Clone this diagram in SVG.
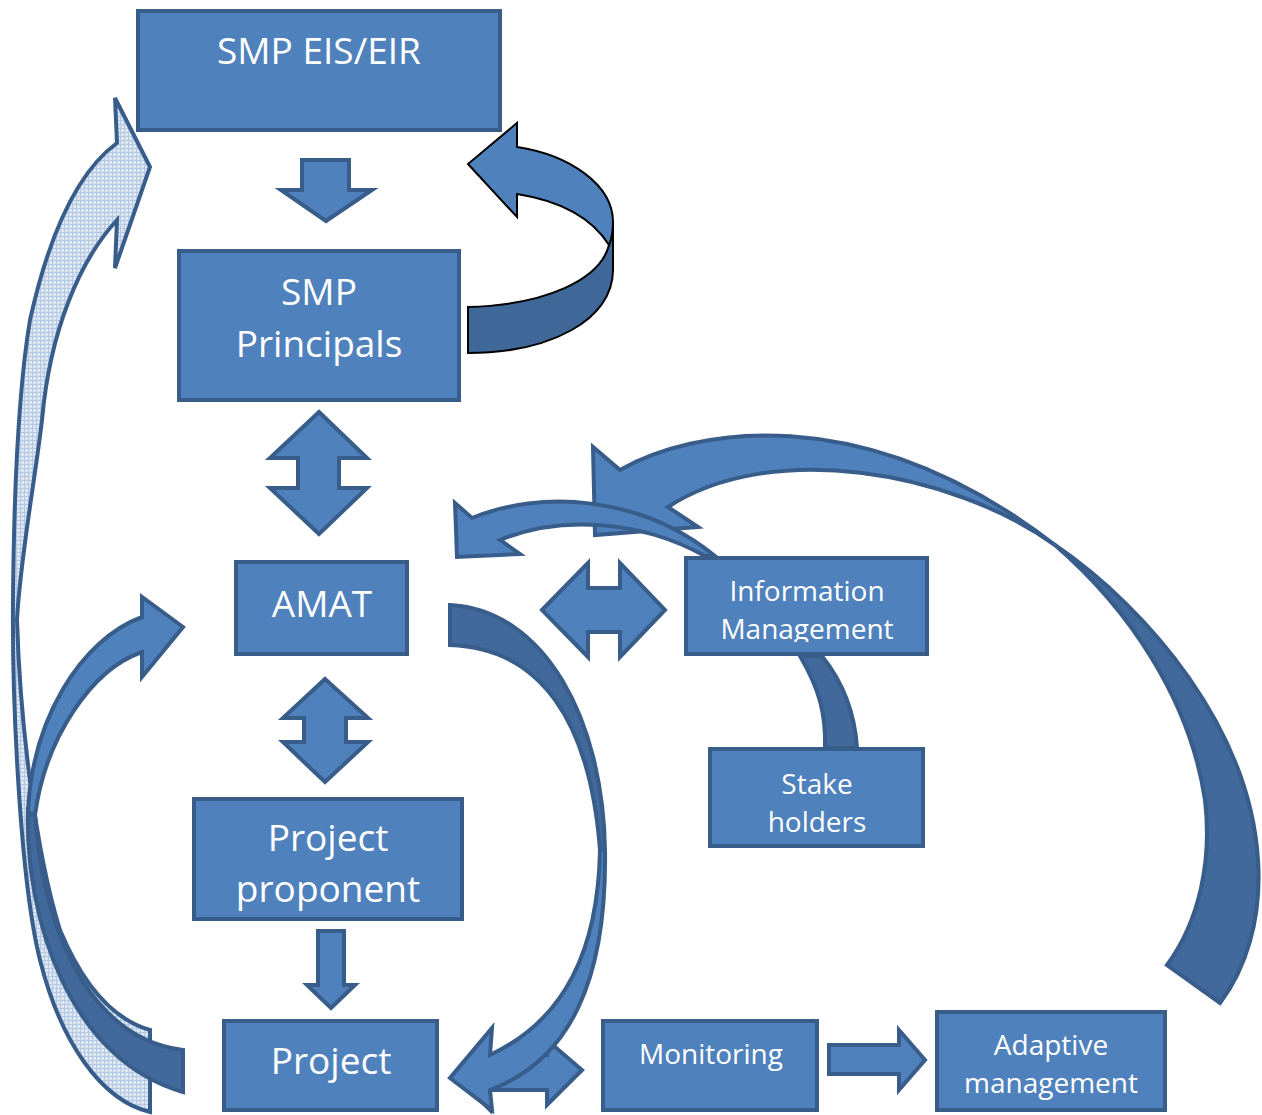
<svg xmlns="http://www.w3.org/2000/svg" width="1262" height="1115" viewBox="0 0 1262 1115">
<style>
.box{fill:#4F81BD;stroke:#385D8A;stroke-width:4}
.lbl{font-family:"Open Sans","Noto Sans",sans-serif;fill:#FFFFFF;text-anchor:middle}
.big{font-size:37px}
.sm{font-size:28px}
.arw{fill:#4F81BD;stroke:#385D8A;stroke-width:4;stroke-linejoin:miter}
.dk{fill:#41699B;stroke:#385D8A;stroke-width:4}
.hat{fill:url(#grid);stroke:#385D8A;stroke-width:4}
.blk{fill:#4F81BD;stroke:#000000;stroke-width:2}
.blkd{fill:#3F6899;stroke:#000000;stroke-width:2}
</style>
<defs>
<pattern id="grid" width="4" height="4" patternUnits="userSpaceOnUse">
<rect width="4" height="4" fill="#DCE6F2"/>
<rect width="1" height="4" fill="#B4C8E2"/>
<rect width="4" height="1" fill="#B4C8E2"/>
</pattern>
<clipPath id="imclip"><rect x="686" y="558" width="241" height="84"/></clipPath>
</defs>

<g id="connectors">
<!-- hatched long arrow: Project -> SMP EIS/EIR -->
<path class="hat" d="M117,143 L115,98 L150,167 L115,268 L117,220 C80,260 50,330 42,420 C35,480 20,560 17,620 C20,720 35,850 60,930 C85,990 115,1020 150,1030 L150,1112 C100,1100 60,1040 40,960 C20,880 12,700 13,600 C14,480 20,380 30,320 C50,230 80,170 117,143 Z"/>
<!-- Project -> AMAT curved (dark lower, light upper) -->
<path class="dk" d="M28,810 C25,920 70,1060 183,1092 L183,1050 C100,1040 45,950 35,815 Z"/>
<path class="arw" d="M142,617 L142,597 L183,627 L142,677 L142,652 C90,670 45,740 35,815 L28,812 C32,720 80,640 142,617 Z"/>

<!-- SMP EIS/EIR -> SMP Principals -->
<polygon class="arw" points="302,160 349,160 349,190 372,190 326,221 281,190 302,190"/>
<!-- SMP Principals <-> AMAT -->
<polygon class="arw" points="319,412 367,458 339,458 339,488 367,488 319,534 270,488 298,488 298,458 270,458"/>
<!-- AMAT <-> Project proponent -->
<polygon class="arw" points="325,679 368,718 346,718 346,742 368,742 325,782 283,742 304,742 304,718 283,718"/>
<!-- Project proponent -> Project -->
<polygon class="arw" points="318,931 344,931 344,985 355,985 331,1008 307,985 318,985"/>
<!-- AMAT <-> Information Management -->
<polygon class="arw" points="542,610 588,563 588,588 620,588 620,563 665,610 620,657 620,632 588,632 588,657"/>
<!-- Monitoring -> Adaptive management -->
<polygon class="arw" points="829,1045 899,1045 899,1030 925,1060 899,1090 899,1074 829,1074"/>
<!-- Project <-> Monitoring -->
<polygon class="arw" points="455,1075 490,1040 490,1055 547,1055 547,1040 582,1070 547,1105 547,1090 490,1090 490,1110"/>

<!-- SMP Principals -> SMP EIS/EIR U-turn -->
<path class="blkd" d="M468,307 C545,305 600,280 609,245 C612,238 613,230 613,222 L613,270 C613,320 550,353 468,353 Z"/>
<path class="blk" d="M609,245 C590,215 555,200 517,194 L517,217 L468,164 L517,123 L517,147 C570,155 613,185 613,222 C613,232 611,240 609,245 Z"/>

<!-- AMAT -> Project big curve -->
<path class="dk" d="M450,605 C545,610 603,720 605,850 L600,850 C590,720 540,648 450,645 Z"/>
<path class="arw" d="M600,850 C598,950 565,1020 490,1055 L492,1028 L450,1078 L492,1110 L490,1090 C570,1060 607,980 605,850 Z"/>

<!-- Adaptive management -> AMAT big curve -->
<path class="dk" d="M1055,545 C1150,610 1250,730 1258,860 C1262,920 1245,970 1220,1003 L1167,965 C1200,920 1212,860 1205,800 C1190,700 1130,610 1055,545 Z"/>
<path class="arw" d="M1055,545 C860,395 690,430 620,470 L593,447 L595,535 L698,527 L668,507 C770,440 950,470 1055,545 Z"/>

<!-- Information Management -> AMAT -->
<path class="arw" d="M472,518 C540,490 640,495 715,556 L705,556 C640,520 560,515 500,540 L520,554 L457,557 L455,503 Z"/>

<!-- Information Management - Stake holders -->
<path class="dk" d="M800,656 C820,690 826,715 825,748 L857,748 C855,715 845,685 822,656 Z"/>
</g>

<g id="smp-eis-eir">
<rect class="box" x="138" y="11" width="362" height="119"/>
<text class="lbl big" x="319" y="64">SMP EIS/EIR</text>
</g>
<g id="smp-principals">
<rect class="box" x="179" y="251" width="280" height="149"/>
<text class="lbl big" x="319" y="305">SMP</text>
<text class="lbl big" x="319" y="357">Principals</text>
</g>
<g id="amat">
<rect class="box" x="236" y="562" width="171" height="92"/>
<text class="lbl big" x="322" y="617">AMAT</text>
</g>
<g id="project-proponent">
<rect class="box" x="194" y="799" width="268" height="120"/>
<text class="lbl big" x="328" y="851">Project</text>
<text class="lbl big" x="328" y="902">proponent</text>
</g>
<g id="project">
<rect class="box" x="224" y="1021" width="213" height="89"/>
<text class="lbl big" x="331" y="1074">Project</text>
</g>
<g id="information-management">
<rect class="box" x="686" y="558" width="241" height="96"/>
<g clip-path="url(#imclip)">
<text class="lbl sm" x="807" y="601">Information</text>
<text class="lbl sm" x="807" y="639">Management</text>
</g>
</g>
<g id="stake-holders">
<rect class="box" x="710" y="749" width="213" height="97"/>
<text class="lbl sm" x="817" y="794">Stake</text>
<text class="lbl sm" x="817" y="832">holders</text>
</g>
<g id="monitoring">
<rect class="box" x="603" y="1021" width="214" height="89"/>
<text class="lbl sm" x="711" y="1064">Monitoring</text>
</g>
<g id="adaptive-management">
<rect class="box" x="937" y="1012" width="228" height="98"/>
<text class="lbl sm" x="1051" y="1055">Adaptive</text>
<text class="lbl sm" x="1051" y="1093">management</text>
</g>
</svg>
